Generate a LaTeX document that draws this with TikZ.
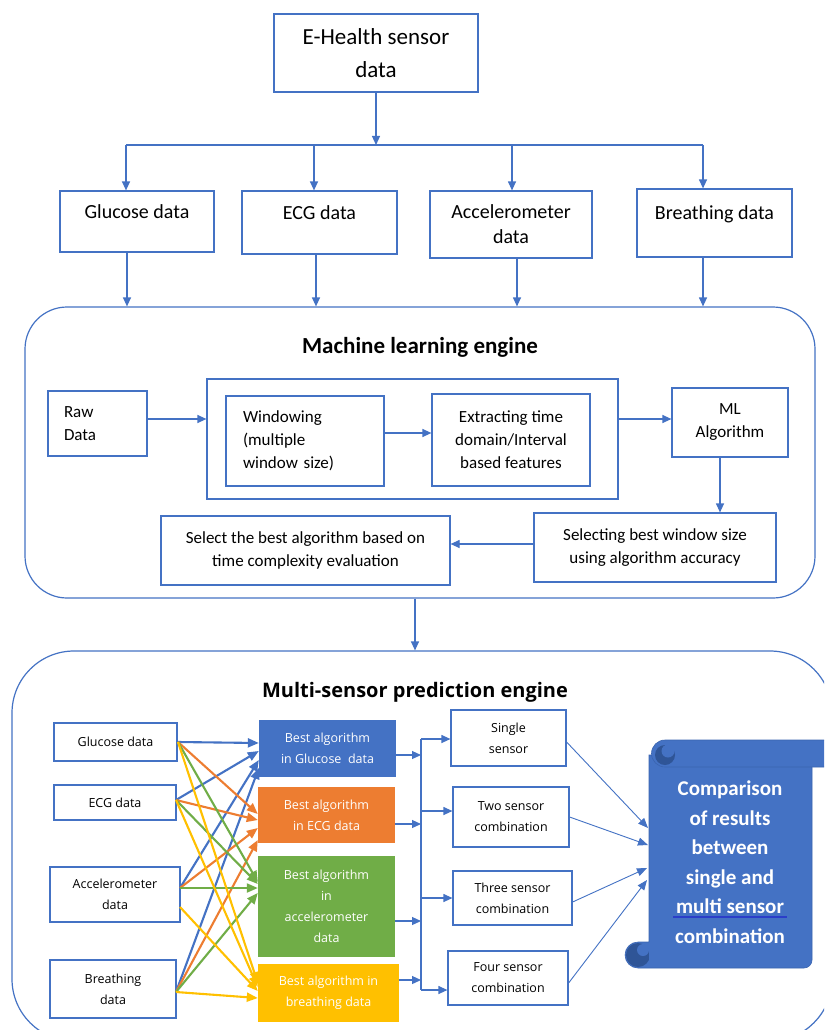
\documentclass[tikz,border=0pt]{standalone}
\usepackage{fontspec}
\setmainfont{Carlito}
\newfontfamily\seg{Open Sans}
\usetikzlibrary{arrows.meta}
\definecolor{lblue}{HTML}{4472C4}
\definecolor{dblue}{HTML}{2F5597}
\definecolor{eblue}{HTML}{3A64B0}
\definecolor{orng}{HTML}{ED7D31}
\definecolor{grn}{HTML}{70AD47}
\definecolor{ylw}{HTML}{FFC000}
\definecolor{ulblue}{HTML}{2B3EC9}
\newcommand\fEH{\fontsize{23}{33}\selectfont}
\newcommand\fTop{\fontsize{20}{25}\selectfont}
\newcommand\fML{\fontsize{17}{23}\selectfont}
\newcommand\fSeg{\seg\fontsize{12.5}{21}\selectfont}
\newcommand\fScr{\bfseries\fontsize{21}{29.5}\selectfont}
\begin{document}
\begin{tikzpicture}[x=1pt,y=-1pt,
  box/.style={draw=lblue, line width=1.2pt, inner sep=0pt, align=center, fill=white},
  cbox/.style={inner sep=0pt, align=center, text=white, font=\fSeg},
  ln/.style={draw=lblue, line width=1.2pt},
  arr/.style={draw=lblue, line width=1.2pt, -{Triangle[width=8pt,length=9pt]}},
  thinarr/.style={draw=lblue, line width=0.9pt, -{Triangle[width=8pt,length=10pt]}},
  carr/.style={line width=2.1pt, -{Triangle[width=9pt,length=11pt]}},
  engine/.style={draw=lblue, line width=1.2pt, inner sep=0pt}
]
\useasboundingbox (0,0) rectangle (824,1030);
\clip (0,0) rectangle (824,1030);
\fill[white] (0,0) rectangle (824,1030);

% ---------------- top part ----------------
\node[box, font=\fEH, minimum width=204pt, minimum height=78pt] (eh) at (376,53) {E-Health sensor\\data};
\node[box, font=\fTop, minimum width=154pt, minimum height=61pt] (glu) at (137,221.5) {Glucose data\\[-5pt]\mbox{}};
\node[box, font=\fTop, minimum width=155pt, minimum height=63pt] (ecg) at (319.5,222.5) {ECG data\\[-5pt]\mbox{}};
\node[box, font=\fTop, minimum width=162pt, minimum height=67pt] (acc) at (511,224.5) {Accelerometer\\data};
\node[box, font=\fTop, minimum width=155pt, minimum height=68pt] (bre) at (714.5,223) {Breathing data\\[-5pt]\mbox{}};

\coordinate (bus) at (376,145);
\coordinate (b1) at (126,145);
\coordinate (b2) at (314,145);
\coordinate (b3) at (512,145);
\coordinate (b4) at (703,145);
\draw[arr] (eh.south) -- (bus);
\draw[ln] (b1) -- (b4);
\draw[arr] (b1) -- (glu.north -| b1);
\draw[arr] (b2) -- (ecg.north -| b2);
\draw[arr] (b3) -- (acc.north -| b3);
\draw[arr] (b4) -- (bre.north -| b4);

% ---------------- machine learning engine ----------------
\node[engine, rounded corners=42pt, minimum width=790pt, minimum height=291pt] (mle) at (420,452.5) {};
\node[font=\bfseries\fontsize{23}{28}\selectfont] (mlt) at (420,347) {Machine learning engine};

\coordinate (d1) at (127,0);
\coordinate (d2) at (316,0);
\coordinate (d3) at (517,0);
\coordinate (d4) at (703,0);
\draw[arr] (glu.south -| d1) -- (mle.north -| d1);
\draw[arr] (ecg.south -| d2) -- (mle.north -| d2);
\draw[arr] (acc.south -| d3) -- (mle.north -| d3);
\draw[arr] (bre.south -| d4) -- (mle.north -| d4);

\node[box, font=\fML, minimum width=99pt, minimum height=65pt, text width=67pt, align=left] (raw) at (97.5,423.5) {Raw\\Data};
\node[box, minimum width=411pt, minimum height=120pt] (grp) at (412.5,439) {};
\node[box, font=\fML, minimum width=158pt, minimum height=90pt, text width=124pt, align=left] (win) at (305,441) {Windowing\\(multiple\\window size)};
\node[box, font=\fML, minimum width=158pt, minimum height=92pt] (ext) at (511,440) {Extracting time\\domain/Interval\\based features};
\node[box, font=\fML, minimum width=116pt, minimum height=69pt] (mla) at (730,422.5) {ML\\Algorithm};
\node[box, font=\fML, minimum width=242pt, minimum height=69pt] (sel) at (655,547.5) {Selecting best window size\\using algorithm accuracy};
\node[box, font=\fML, minimum width=289pt, minimum height=69pt] (sbest) at (305.5,550.5) {Select the best algorithm based on\\time complexity evaluation};

\coordinate (yA) at (0,419);
\coordinate (yB) at (0,433);
\coordinate (yC) at (0,544);
\coordinate (xA) at (720,0);
\coordinate (xB) at (415,0);
\draw[arr] (raw.east |- yA) -- (grp.west |- yA);
\draw[arr] (win.east |- yB) -- (ext.west |- yB);
\draw[arr] (grp.east |- yA) -- (mla.west |- yA);
\draw[arr] (mla.south -| xA) -- (sel.north -| xA);
\draw[arr] (sel.west |- yC) -- (sbest.east |- yC);

% ---------------- multi-sensor prediction engine ----------------
\node[engine, rounded corners=62pt, minimum width=820pt, minimum height=390pt] (mse) at (422,846) {};
\draw[arr] (mle.south -| xB) -- (mse.north -| xB);
\node[font=\seg\bfseries\fontsize{20}{24}\selectfont] (mset) at (415,692) {Multi-sensor prediction engine};

% inputs
\node[box, font=\fSeg, minimum width=123pt, minimum height=38pt] (iglu) at (115.5,742) {Glucose data};
\node[box, font=\fSeg, minimum width=122pt, minimum height=35pt] (iecg) at (115,802.5) {ECG data};
\node[box, font=\fSeg, minimum width=130pt, minimum height=55pt] (iacc) at (115,894.5) {Accelerometer\\data};
\node[box, font=\fSeg, minimum width=126pt, minimum height=58pt] (ibre) at (113,989) {Breathing\\data};

% best-algorithm boxes
\node[cbox, fill=lblue, minimum width=137pt, minimum height=57pt] (bglu) at (327.5,748.5) {Best algorithm\\in Glucose\ \ data};
\node[cbox, fill=orng, minimum width=137pt, minimum height=56pt] (becg) at (326.5,815) {Best algorithm\\in ECG data};
\node[cbox, fill=grn, minimum width=137pt, minimum height=101pt] (bacc) at (326.5,906.5) {Best algorithm\\in\\accelerometer\\data};
\node[cbox, fill=ylw, minimum width=141pt, minimum height=58pt] (bbre) at (328.5,993) {Best algorithm in\\breathing data};

% coloured connectors
\coordinate (gS) at (178,742);
\coordinate (eS) at (176,800);
\coordinate (aS) at (180,888);
\coordinate (aS2) at (180,907);
\coordinate (rS) at (176,992);
% to blue
\draw[carr, lblue] (gS) -- (bglu.west |- 0,743);
\draw[carr, lblue] (eS) -- (bglu.west |- 0,751);
\draw[carr, lblue] (aS) -- (bglu.west |- 0,760);
\draw[carr, lblue] (rS) -- (bglu.west |- 0,768);
% to orange
\draw[carr, orng] (gS) -- (becg.west |- 0,814);
\draw[carr, orng] (eS) -- (becg.west |- 0,820);
\draw[carr, orng] (aS) -- (becg.west |- 0,828);
\draw[carr, orng] (rS) -- (becg.west |- 0,840);
% to green
\draw[carr, grn] (gS) -- (bacc.west |- 0,882);
\draw[carr, grn] (eS) -- (bacc.west |- 0,884);
\draw[carr, grn] (aS) -- (bacc.west |- 0,888);
\draw[carr, grn] (rS) -- (bacc.west |- 0,893);
% to yellow
\draw[carr, ylw] (gS) -- (bbre.west |- 0,983);
\draw[carr, ylw] (eS) -- (bbre.west |- 0,987);
\draw[carr, ylw] (aS2) -- (bbre.west |- 0,991);
\draw[carr, ylw] (rS) -- (bbre.west |- 0,998);

% sensor combination boxes
\node[box, font=\fSeg, minimum width=115pt, minimum height=56pt] (single) at (508.5,738) {Single\\sensor};
\node[box, font=\fSeg, minimum width=116pt, minimum height=60pt] (two) at (511,817) {Two sensor\\combination};
\node[box, font=\fSeg, minimum width=119pt, minimum height=54pt] (three) at (512.5,898) {Three sensor\\combination};
\node[box, font=\fSeg, minimum width=120pt, minimum height=54pt] (four) at (508,978) {Four sensor\\combination};

% bus
\coordinate (vT) at (421,739);
\coordinate (vB) at (421,990);
\draw[ln] (vT) -- (vB);
\coordinate (m1) at (421,755);
\coordinate (m2) at (421,824);
\coordinate (m3) at (421,921);
\coordinate (m4) at (421,980);
\draw[arr] (bglu.east |- m1) -- (m1);
\draw[arr] (becg.east |- m2) -- (m2);
\draw[arr] (bacc.east |- m3) -- (m3);
\draw[arr] (bbre.east |- m4) -- (m4);
\coordinate (n2) at (421,811);
\coordinate (n3) at (421,898);
\draw[arr] (vT) -- (single.west |- vT);
\draw[arr] (n2) -- (two.west |- n2);
\draw[arr] (n3) -- (three.west |- n3);
\draw[arr] (vB) -- (four.west |- vB);

% scroll (arc angles are page angles: 90 = up)
% body
\fill[lblue, draw=eblue, line width=0.6pt] (649,755) -- (812,755) -- (812,960) arc[start angle=0, end angle=-90, radius=8pt] -- (638,968) arc[start angle=-90, end angle=-270, radius=13pt] -- (649,942) -- cycle;
% top band with rounded left end
\fill[lblue, draw=eblue, line width=0.6pt] (665,740) -- (834,740) -- (834,767) -- (665,767) arc[start angle=-90, end angle=-270, radius=13.5pt] -- cycle;
% top curl
\fill[dblue] (665,755) circle (10);
\fill[lblue] (668,751) circle (6.5);
% bottom curl
\fill[dblue] (638,955) circle (12);
\fill[lblue] (643,950) circle (6);
\fill[lblue] (649,943) rectangle (652,967);
\node[font=\fScr, text=white, align=center, inner sep=0pt] (scroll) at (730,862) {Comparison\\of results\\between\\single and\\multi sensor\\combination};
\draw[ulblue, line width=1.2pt] (673,917) -- (787,917);

\coordinate (s1) at (648,828);
\coordinate (s2) at (648,845);
\coordinate (s3) at (647,868);
\coordinate (s4) at (647,880);
\draw[thinarr] (single.east |- 0,742) -- (s1);
\draw[thinarr] (two.east) -- (s2);
\draw[thinarr] (three.east |- 0,902) -- (s3);
\draw[thinarr] (four.east |- 0,983) -- (s4);
\end{tikzpicture}
\end{document}
